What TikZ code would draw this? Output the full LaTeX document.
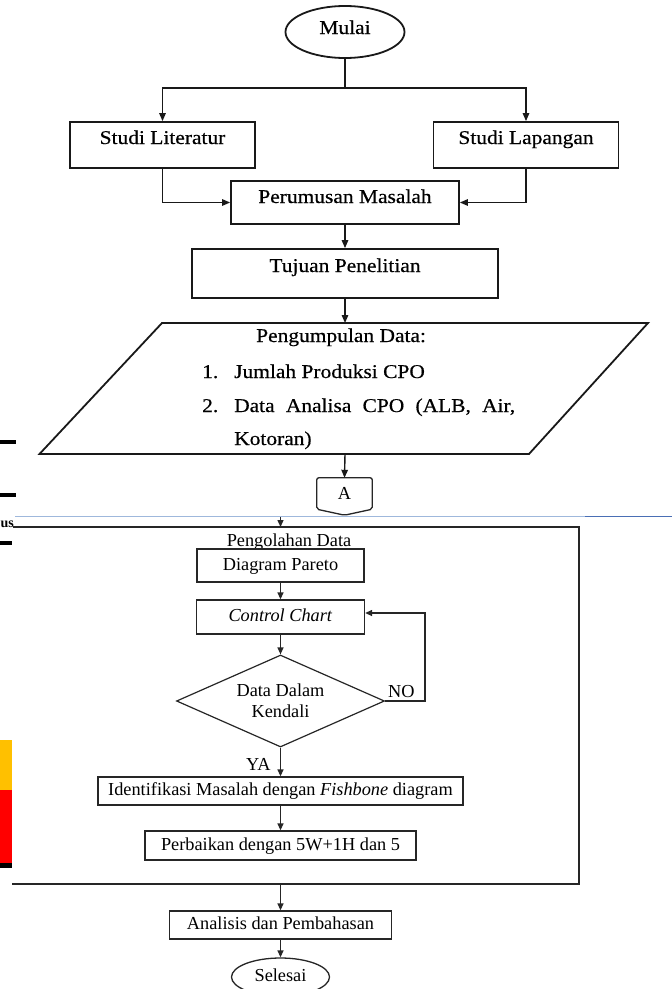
\documentclass[tikz,border=0pt]{standalone}
\usepackage{fontspec}
\setmainfont{Liberation Serif}
\newfontfamily\topfont[FakeStretch=1.1,FakeBold=0.5]{Liberation Serif}
\usetikzlibrary{shapes.geometric,arrows.meta}
\definecolor{lineblue}{HTML}{9FB8DC}
\definecolor{deepblue}{HTML}{4A6FB5}
\definecolor{baryellow}{HTML}{FFC000}
\definecolor{barred}{HTML}{FF0000}
\begin{document}
\begin{tikzpicture}[x=1pt,y=-1pt,
  topfnt/.style={font=\topfont\fontsize{19.5}{23}\selectfont},
  botfnt/.style={font=\fontsize{18.3}{21}\selectfont},
  topbox/.style={topfnt, draw=black!90, line width=1.8pt, rectangle, inner sep=0pt, text height=13pt},
  botbox/.style={botfnt, draw=black!85, line width=1.3pt, rectangle, inner sep=0pt, text height=13pt, text depth=4pt},
  tarr/.style={draw=black!90, line width=1.4pt, -{Triangle[length=8pt,width=6.5pt]}},
  tline/.style={draw=black!90, line width=1.4pt},
  barr/.style={draw=black!85, line width=1.3pt, -{Triangle[length=7pt,width=6pt]}},
  lbl/.style={botfnt, inner sep=0pt, anchor=base west}
]
\clip (0,0) rectangle (672,989);
\fill[white] (0,0) rectangle (672,989);

% ---------- top section ----------
\node[topbox, ellipse, minimum width=119pt, minimum height=52pt, text height=14pt, text depth=10pt] (mulai) at (345,32) {Mulai};
\coordinate (split) at (345,88);
\node[topbox, minimum width=185pt, minimum height=46pt, text depth=15pt] (lit) at (162.5,145) {Studi Literatur};
\node[topbox, minimum width=185pt, minimum height=46pt, text depth=15pt] (lap) at (526,145) {Studi Lapangan};
\node[topbox, minimum width=228pt, minimum height=43pt, text depth=12pt] (rumus) at (345,202.5) {Perumusan Masalah};
\node[topbox, minimum width=306pt, minimum height=49pt, text depth=16pt] (tujuan) at (345,273.5) {Tujuan Penelitian};

\draw[tline] (mulai.south) -- (split);
\draw[tarr] (split) -| (lit.north);
\draw[tarr] (split) -| (lap.north);
\draw[tarr] (lit.south) |- (rumus.west);
\draw[tarr] (lap.south) |- (rumus.east);
\draw[tarr] (rumus.south) -- (tujuan.north);

% parallelogram
\coordinate (ptop) at (345,323);
\coordinate (pbot) at (345,454);
\draw[draw=black!90, line width=1.8pt, line join=miter] (162,323) -- (648,323) -- (529,454) -- (39.5,454) -- cycle;
\draw[tarr] (tujuan.south) -- (ptop);
\node[topfnt, inner sep=0pt, anchor=base west] (d0) at (256,342) {Pengumpulan Data:};
\node[topfnt, inner sep=0pt, anchor=base west] (d1n) at (202,378) {1.};
\node[topfnt, inner sep=0pt, anchor=base west] (d1) at (234,378) {Jumlah Produksi CPO};
\node[topfnt, inner sep=0pt, anchor=base west] (d2n) at (202,412) {2.};
\node[topfnt, inner sep=0pt, anchor=base west] (d2) at (234,412) {\makebox[281pt][s]{Data Analisa CPO (ALB, Air,}};
\node[topfnt, inner sep=0pt, anchor=base west] (d3) at (234,445) {Kotoran)};

% off-page connector A
\node[botfnt, inner sep=0pt, minimum width=55pt, minimum height=31pt, text height=12pt, text depth=0pt] (conA) at (344.5,493.5) {A};
\draw[draw=black!85, line width=1.3pt, rounded corners=2pt] (conA.south west) -- (conA.north west) -- (conA.north east) -- (conA.south east) -- ([yshift=-6pt]conA.south) -- cycle;
\draw[tarr] (pbot) -- (conA.north);

% ---------- left page remnants ----------
\fill[black] (0,440) rectangle (16,444);
\fill[black] (0,493) rectangle (16,497);
\fill[black] (0,541) rectangle (12,545);
\fill[baryellow] (0,740) rectangle (12,790);
\fill[barred] (0,790) rectangle (12,863);
\fill[black] (0,863) rectangle (12,868);
\node[font=\fontsize{14}{16}\selectfont\bfseries, inner sep=0pt, anchor=base west] (us) at (0.5,527) {us};
\draw[lineblue, line width=1pt] (15,516) -- (585,516);
\draw[deepblue, line width=1.6pt] (585,516.5) -- (672,516.5);

% ---------- bottom section ----------
\coordinate (fin) at (280.5,517);
\coordinate (ftop) at (280.5,527);
\coordinate (fbot) at (280.5,884);
\draw[draw=black!85, line width=1.4pt] (13,527) -- (579,527) -- (579,884) -- (12,884);
\draw[barr] (fin) -- (ftop);

\node[botfnt, inner sep=0pt, anchor=base] (olah) at (289,546) {Pengolahan Data};
\node[botbox, minimum width=167pt, minimum height=33pt] (pareto) at (280.5,565.5) {Diagram Pareto};
\node[botbox, minimum width=168pt, minimum height=34pt] (control) at (280.5,617) {\textit{Control Chart}};
\node[botfnt, diamond, draw=black!85, line width=1.2pt, aspect=2.26, minimum width=208pt, minimum height=92pt, inner sep=0pt, align=center] (dec) at (280.5,701) {Data Dalam\\Kendali};
\node[botbox, minimum width=365pt, minimum height=28pt] (ident) at (280.5,791) {Identifikasi Masalah dengan \textit{Fishbone} diagram};
\node[botbox, minimum width=271pt, minimum height=29pt] (perb) at (280.5,845.5) {Perbaikan dengan 5W+1H dan 5};
\node[botbox, minimum width=222pt, minimum height=28pt] (anal) at (280.5,925) {Analisis dan Pembahasan};
\node[botfnt, ellipse, draw=black!85, line width=1.3pt, minimum width=98pt, minimum height=38pt, inner sep=0pt, text height=12pt, text depth=4pt] (selesai) at (280.5,977) {Selesai};

\draw[barr] (pareto.south) -- (control.north);
\draw[barr] (control.south) -- (dec.north);
\draw[barr] (dec.east) -- ++(40,0) |- ([yshift=4pt]control.east);
\draw[barr] (dec.south) -- (ident.north);
\draw[barr] (ident.south) -- (perb.north);
\draw[barr] (fbot) -- (anal.north);
\draw[barr] (anal.south) -- (selesai.north);

\node[lbl] (no) at (388,697) {NO};
\node[lbl] (ya) at (246,770) {YA};
\end{tikzpicture}
\end{document}
